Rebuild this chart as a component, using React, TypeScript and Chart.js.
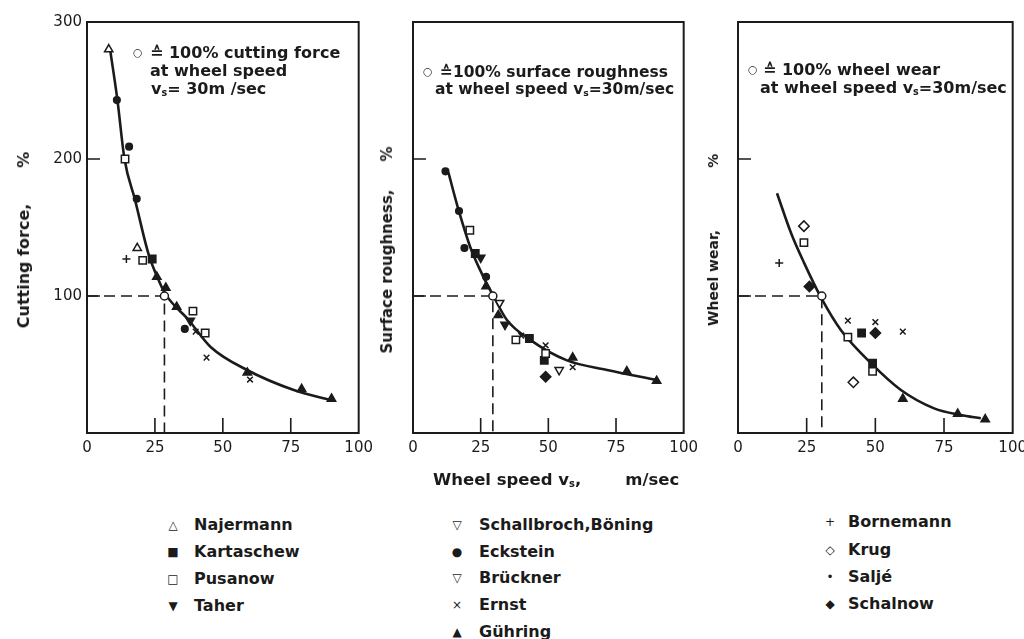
import React, { useEffect, useRef } from "react";
import { Chart, registerables } from "chart.js";

Chart.register(...registerables);

// ---------------- axis ticks ----------------
const speedTicks = [0, 25, 50, 75, 100];
const speedTickLabels = ["0", "25", "50", "75", "100"];
const percentTicks = [0, 100, 200, 300];
const percentTickLabels = ["", "100", "200", "300"];
const refPercent = 100;

type Pt = [number, number];

// ---------------- panel 1: cutting force ----------------
const forceRefSpeed = 28.5;
const forceCurveSpeed = [8.5, 11.2, 13.8, 17.7, 22.6, 26.5, 29, 37.4, 45.4, 58.9, 76.1, 89.7];
const forceCurveValue = [280, 243, 200, 170, 131, 111, 101, 82.5, 63, 46, 31.4, 24];
const forceNajermann: Pt[] = [[8, 280], [18.5, 135]];
const forceKartaschew: Pt[] = [[24, 127]];
const forcePusanow: Pt[] = [[14, 200], [20.5, 126], [39, 89], [43.5, 73]];
const forceTaher: Pt[] = [[38, 82]];
const forceEckstein: Pt[] = [[11, 243], [15.5, 209], [18.3, 171], [36, 76]];
const forceErnst: Pt[] = [[40, 74], [44, 55], [60, 39]];
const forceGuehring: Pt[] = [[25.7, 114], [29, 106], [33, 92], [59, 44], [79, 32], [90, 25]];
const forceBornemann: Pt[] = [[14.5, 127]];

// ---------------- panel 2: surface roughness ----------------
const roughRefSpeed = 29.5;
const roughCurveSpeed = [13.1, 16.8, 21.1, 26, 29.7, 34.7, 43.3, 56.9, 71.7, 90.2];
const roughCurveValue = [190, 163, 136, 114, 100, 82.5, 68, 53, 46, 38.7];
const roughEckstein: Pt[] = [[12, 191], [17, 162], [19, 135], [27, 114]];
const roughPusanow: Pt[] = [[21, 148], [38, 68], [49, 58]];
const roughKartaschew: Pt[] = [[23, 131], [43, 69], [48.5, 53]];
const roughTaher: Pt[] = [[25, 128], [34, 79]];
const roughGuehring: Pt[] = [[27, 107], [31.5, 86], [59, 55], [79, 45], [90, 38]];
const roughSchallbroch: Pt[] = [[32, 95]];
const roughBrueckner: Pt[] = [[54, 46]];
const roughErnst: Pt[] = [[40, 71], [49, 64], [59, 48]];
const roughSchalnow: Pt[] = [[49, 41]];

// ---------------- panel 3: wheel wear ----------------
const wearRefSpeed = 30.5;
const wearCurveSpeed = [14.2, 19.3, 24.1, 30.2, 37.5, 48.4, 59.3, 71.4, 81.1, 88.4];
const wearCurveValue = [175, 146, 124, 99, 75, 51, 31.4, 18, 13.1, 10.7];
const wearBornemann: Pt[] = [[15, 124]];
const wearKrug: Pt[] = [[24, 151], [42, 37]];
const wearPusanow: Pt[] = [[24, 139], [40, 70], [49, 45]];
const wearSchalnow: Pt[] = [[26, 107], [50, 73]];
const wearKartaschew: Pt[] = [[45, 73], [49, 51]];
const wearErnst: Pt[] = [[40, 82], [50, 81], [60, 74]];
const wearGuehring: Pt[] = [[60, 25], [80, 14], [90, 10]];

// ---------------- legend ----------------
const legendCol1 = ["Najermann", "Kartaschew", "Pusanow", "Taher"];
const legendCol2 = ["Schallbroch,Böning", "Eckstein", "Brückner", "Ernst", "Gühring"];
const legendCol3 = ["Bornemann", "Krug", "Saljé", "Schalnow"];

const INK = "#1b1b1b";
const FONT = "'DejaVu Sans', 'Liberation Sans', sans-serif";

interface MarkerStyle { shape: string; filled: boolean; rotation: number; radius: number; glyph: string; }
const markerStyles: Record<string, MarkerStyle> = {
  "Najermann": { shape: "triangle", filled: false, rotation: 0, radius: 4.8, glyph: "△" },
  "Kartaschew": { shape: "rect", filled: true, rotation: 0, radius: 5.2, glyph: "■" },
  "Pusanow": { shape: "rect", filled: false, rotation: 0, radius: 5.2, glyph: "□" },
  "Taher": { shape: "triangle", filled: true, rotation: 180, radius: 4.8, glyph: "▼" },
  "Schallbroch,Böning": { shape: "triangle", filled: false, rotation: 180, radius: 4.8, glyph: "▽" },
  "Eckstein": { shape: "circle", filled: true, rotation: 0, radius: 3.3, glyph: "●" },
  "Brückner": { shape: "triangle", filled: false, rotation: 180, radius: 4.8, glyph: "▽" },
  "Ernst": { shape: "crossRot", filled: false, rotation: 0, radius: 4, glyph: "×" },
  "Gühring": { shape: "triangle", filled: true, rotation: 0, radius: 4.8, glyph: "▲" },
  "Bornemann": { shape: "cross", filled: false, rotation: 0, radius: 4, glyph: "+" },
  "Krug": { shape: "rectRot", filled: false, rotation: 0, radius: 5.2, glyph: "◇" },
  "Saljé": { shape: "circle", filled: true, rotation: 0, radius: 2.2, glyph: "•" },
  "Schalnow": { shape: "rectRot", filled: true, rotation: 0, radius: 5.2, glyph: "◆" },
};

interface PanelDef {
  canvasLeft: number;
  canvasWidth: number;
  yWidth: number;
  showYLabels: boolean;
  refSpeed: number;
  curveX: number[];
  curveY: number[];
  series: [string, Pt[]][];
}

const panels: PanelDef[] = [
  {
    canvasLeft: 0, canvasWidth: 379, yWidth: 87, showYLabels: true,
    refSpeed: forceRefSpeed, curveX: forceCurveSpeed, curveY: forceCurveValue,
    series: [
      ["Najermann", forceNajermann], ["Kartaschew", forceKartaschew], ["Pusanow", forcePusanow],
      ["Taher", forceTaher], ["Eckstein", forceEckstein], ["Ernst", forceErnst],
      ["Gühring", forceGuehring], ["Bornemann", forceBornemann],
    ],
  },
  {
    canvasLeft: 365, canvasWidth: 339, yWidth: 48, showYLabels: false,
    refSpeed: roughRefSpeed, curveX: roughCurveSpeed, curveY: roughCurveValue,
    series: [
      ["Eckstein", roughEckstein], ["Pusanow", roughPusanow], ["Kartaschew", roughKartaschew],
      ["Taher", roughTaher], ["Gühring", roughGuehring], ["Schallbroch,Böning", roughSchallbroch],
      ["Brückner", roughBrueckner], ["Ernst", roughErnst], ["Schalnow", roughSchalnow],
    ],
  },
  {
    canvasLeft: 690, canvasWidth: 343, yWidth: 48, showYLabels: false,
    refSpeed: wearRefSpeed, curveX: wearCurveSpeed, curveY: wearCurveValue,
    series: [
      ["Bornemann", wearBornemann], ["Krug", wearKrug], ["Pusanow", wearPusanow],
      ["Schalnow", wearSchalnow], ["Kartaschew", wearKartaschew], ["Ernst", wearErnst],
      ["Gühring", wearGuehring],
    ],
  },
];

const CANVAS_H = 470;

const framePlugin = {
  id: "frameTicks",
  beforeDatasetsDraw(chart: any) {
    const { ctx, chartArea, scales } = chart;
    const { left, right, top, bottom } = chartArea;
    ctx.save();
    ctx.strokeStyle = INK;
    ctx.lineWidth = 2;
    ctx.strokeRect(left, top, right - left, bottom - top);
    ctx.lineWidth = 1.6;
    ctx.beginPath();
    scales.x.ticks.forEach((t: any) => {
      if (t.value > scales.x.min && t.value < scales.x.max) {
        const px = scales.x.getPixelForValue(t.value);
        ctx.moveTo(px, bottom);
        ctx.lineTo(px, bottom - 15);
      }
    });
    scales.y.ticks.forEach((t: any) => {
      if (t.value > scales.y.min && t.value < scales.y.max) {
        const py = scales.y.getPixelForValue(t.value);
        ctx.moveTo(left, py);
        ctx.lineTo(left + 13, py);
      }
    });
    ctx.stroke();
    ctx.restore();
  },
};

function buildConfig(p: PanelDef): any {
  const datasets: any[] = [];
  datasets.push({
    data: [{ x: 0, y: refPercent }, { x: p.refSpeed, y: refPercent }, { x: p.refSpeed, y: 0 }],
    showLine: true, borderColor: INK, borderWidth: 1.6, borderDash: [11, 6],
    pointRadius: 0, tension: 0, order: 5,
  });
  datasets.push({
    data: p.curveX.map((x, i) => ({ x, y: p.curveY[i] })),
    showLine: true, borderColor: INK, borderWidth: 2.6, pointRadius: 0,
    cubicInterpolationMode: "monotone", order: 4,
  });
  p.series.forEach(([name, pts]) => {
    const m = markerStyles[name];
    datasets.push({
      label: name,
      data: pts.map(([x, y]) => ({ x, y })),
      showLine: false,
      pointStyle: m.shape,
      rotation: m.rotation,
      pointRadius: m.radius,
      pointBackgroundColor: m.filled ? INK : "#ffffff",
      pointBorderColor: INK,
      pointBorderWidth: 1.5,
      order: 1,
    });
  });
  datasets.push({
    label: "100 %",
    data: [{ x: p.refSpeed, y: refPercent }],
    showLine: false, pointStyle: "circle", pointRadius: 4,
    pointBackgroundColor: "#ffffff", pointBorderColor: INK, pointBorderWidth: 1.5, order: 0,
  });

  return {
    type: "scatter",
    data: { datasets },
    options: {
      animation: false,
      responsive: false,
      maintainAspectRatio: false,
      layout: { padding: { top: 22, right: 14, left: 0, bottom: 0 } },
      plugins: { legend: { display: false }, tooltip: { enabled: false } },
      scales: {
        x: {
          type: "linear", min: 0, max: 100,
          afterBuildTicks: (s: any) => { s.ticks = speedTicks.map((v) => ({ value: v })); },
          ticks: {
            autoSkip: false, maxRotation: 0, padding: 6, color: INK,
            font: { family: FONT, size: 15 },
            callback: (v: number) => speedTickLabels[speedTicks.indexOf(v)],
          },
          grid: { display: false, drawTicks: false },
          border: { display: false },
          afterFit: (s: any) => { s.height = 37; },
        },
        y: {
          type: "linear", min: 0, max: 300,
          afterBuildTicks: (s: any) => { s.ticks = percentTicks.map((v) => ({ value: v })); },
          ticks: {
            display: p.showYLabels, padding: 5, color: INK,
            font: { family: FONT, size: 15 },
            callback: (v: number) => percentTickLabels[percentTicks.indexOf(v)],
          },
          grid: { display: false, drawTicks: false },
          border: { display: false },
          afterFit: (s: any) => { s.width = p.yWidth; },
        },
      },
    },
    plugins: [framePlugin],
  };
}

function Panel({ def }: { def: PanelDef }) {
  const ref = useRef<HTMLCanvasElement>(null);
  useEffect(() => {
    const chart = new Chart(ref.current as HTMLCanvasElement, buildConfig(def));
    return () => chart.destroy();
  }, [def]);
  return (
    <canvas
      ref={ref}
      width={def.canvasWidth}
      height={CANVAS_H}
      style={{ position: "absolute", left: def.canvasLeft, top: 0, width: def.canvasWidth, height: CANVAS_H }}
    />
  );
}

const textBase: React.CSSProperties = {
  position: "absolute", fontFamily: FONT, fontWeight: "bold", color: INK,
  whiteSpace: "nowrap", lineHeight: "18px",
};

function Sub({ children }: { children: React.ReactNode }) {
  return <span style={{ fontSize: "0.6em", verticalAlign: "-0.25em" }}>{children}</span>;
}

function Line({ x, y, size, children }: { x: number; y: number; size: number; children: React.ReactNode }) {
  return <div style={{ ...textBase, left: x, top: y - 9, fontSize: size }}>{children}</div>;
}

function RefDot({ x, y }: { x: number; y: number }) {
  return <div style={{ ...textBase, left: x - 5, top: y - 9, fontSize: 11, fontWeight: "normal" }}>○</div>;
}

function YTitle({ cx, cy, size, label, gap }: { cx: number; cy: number; size: number; label: string; gap: number }) {
  return (
    <div style={{ ...textBase, left: cx, top: cy, fontSize: size, transform: "translate(-50%, -50%) rotate(-90deg)" }}>
      {label}<span style={{ marginLeft: gap }}>%</span>
    </div>
  );
}

const legendLayout = [
  { markerX: 173, textX: 194, rows: [525, 552, 579, 606, 633], names: legendCol1 },
  { markerX: 457, textX: 479, rows: [525, 552, 578, 605, 632], names: legendCol2 },
  { markerX: 830, textX: 848, rows: [522, 550, 577, 604, 631], names: legendCol3 },
];

export default function App() {
  return (
    <div style={{ position: "absolute", left: 0, top: 0, width: 1024, height: 639, overflow: "hidden", background: "#ffffff" }}>
      {panels.map((p, i) => <Panel key={i} def={p} />)}

      <YTitle cx={24} cy={240} size={16} label="Cutting force," gap={36} />
      <YTitle cx={387} cy={250} size={15} label="Surface roughness," gap={28} />
      <YTitle cx={713} cy={240} size={14} label="Wheel wear," gap={62} />

      <RefDot x={138} y={53} />
      <Line x={150} y={53} size={16}>≙ 100% cutting force</Line>
      <Line x={150} y={71} size={16}>at wheel speed</Line>
      <Line x={151} y={89} size={16}>v<Sub>s</Sub>= 30m /sec</Line>

      <RefDot x={428} y={72} />
      <Line x={440} y={72} size={15.5}>≙100% surface roughness</Line>
      <Line x={435} y={89} size={15.5}>at wheel speed v<Sub>s</Sub>=30m/sec</Line>

      <RefDot x={753} y={70} />
      <Line x={763} y={70} size={16}>≙ 100% wheel wear</Line>
      <Line x={760} y={88} size={16}>at wheel speed v<Sub>s</Sub>=30m/sec</Line>

      <Line x={433} y={480} size={16.5}>Wheel speed v<Sub>s</Sub>,<span style={{ marginLeft: 44 }}>m/sec</span></Line>

      {legendLayout.map((col, ci) =>
        col.names.map((name, ri) => (
          <React.Fragment key={ci + "-" + ri}>
            <div style={{ ...textBase, left: col.markerX, top: col.rows[ri], fontSize: 12, fontWeight: "normal", transform: "translate(-50%, -50%)" }}>
              {markerStyles[name].glyph}
            </div>
            <Line x={col.textX} y={col.rows[ri]} size={16}>{name}</Line>
          </React.Fragment>
        ))
      )}
    </div>
  );
}
